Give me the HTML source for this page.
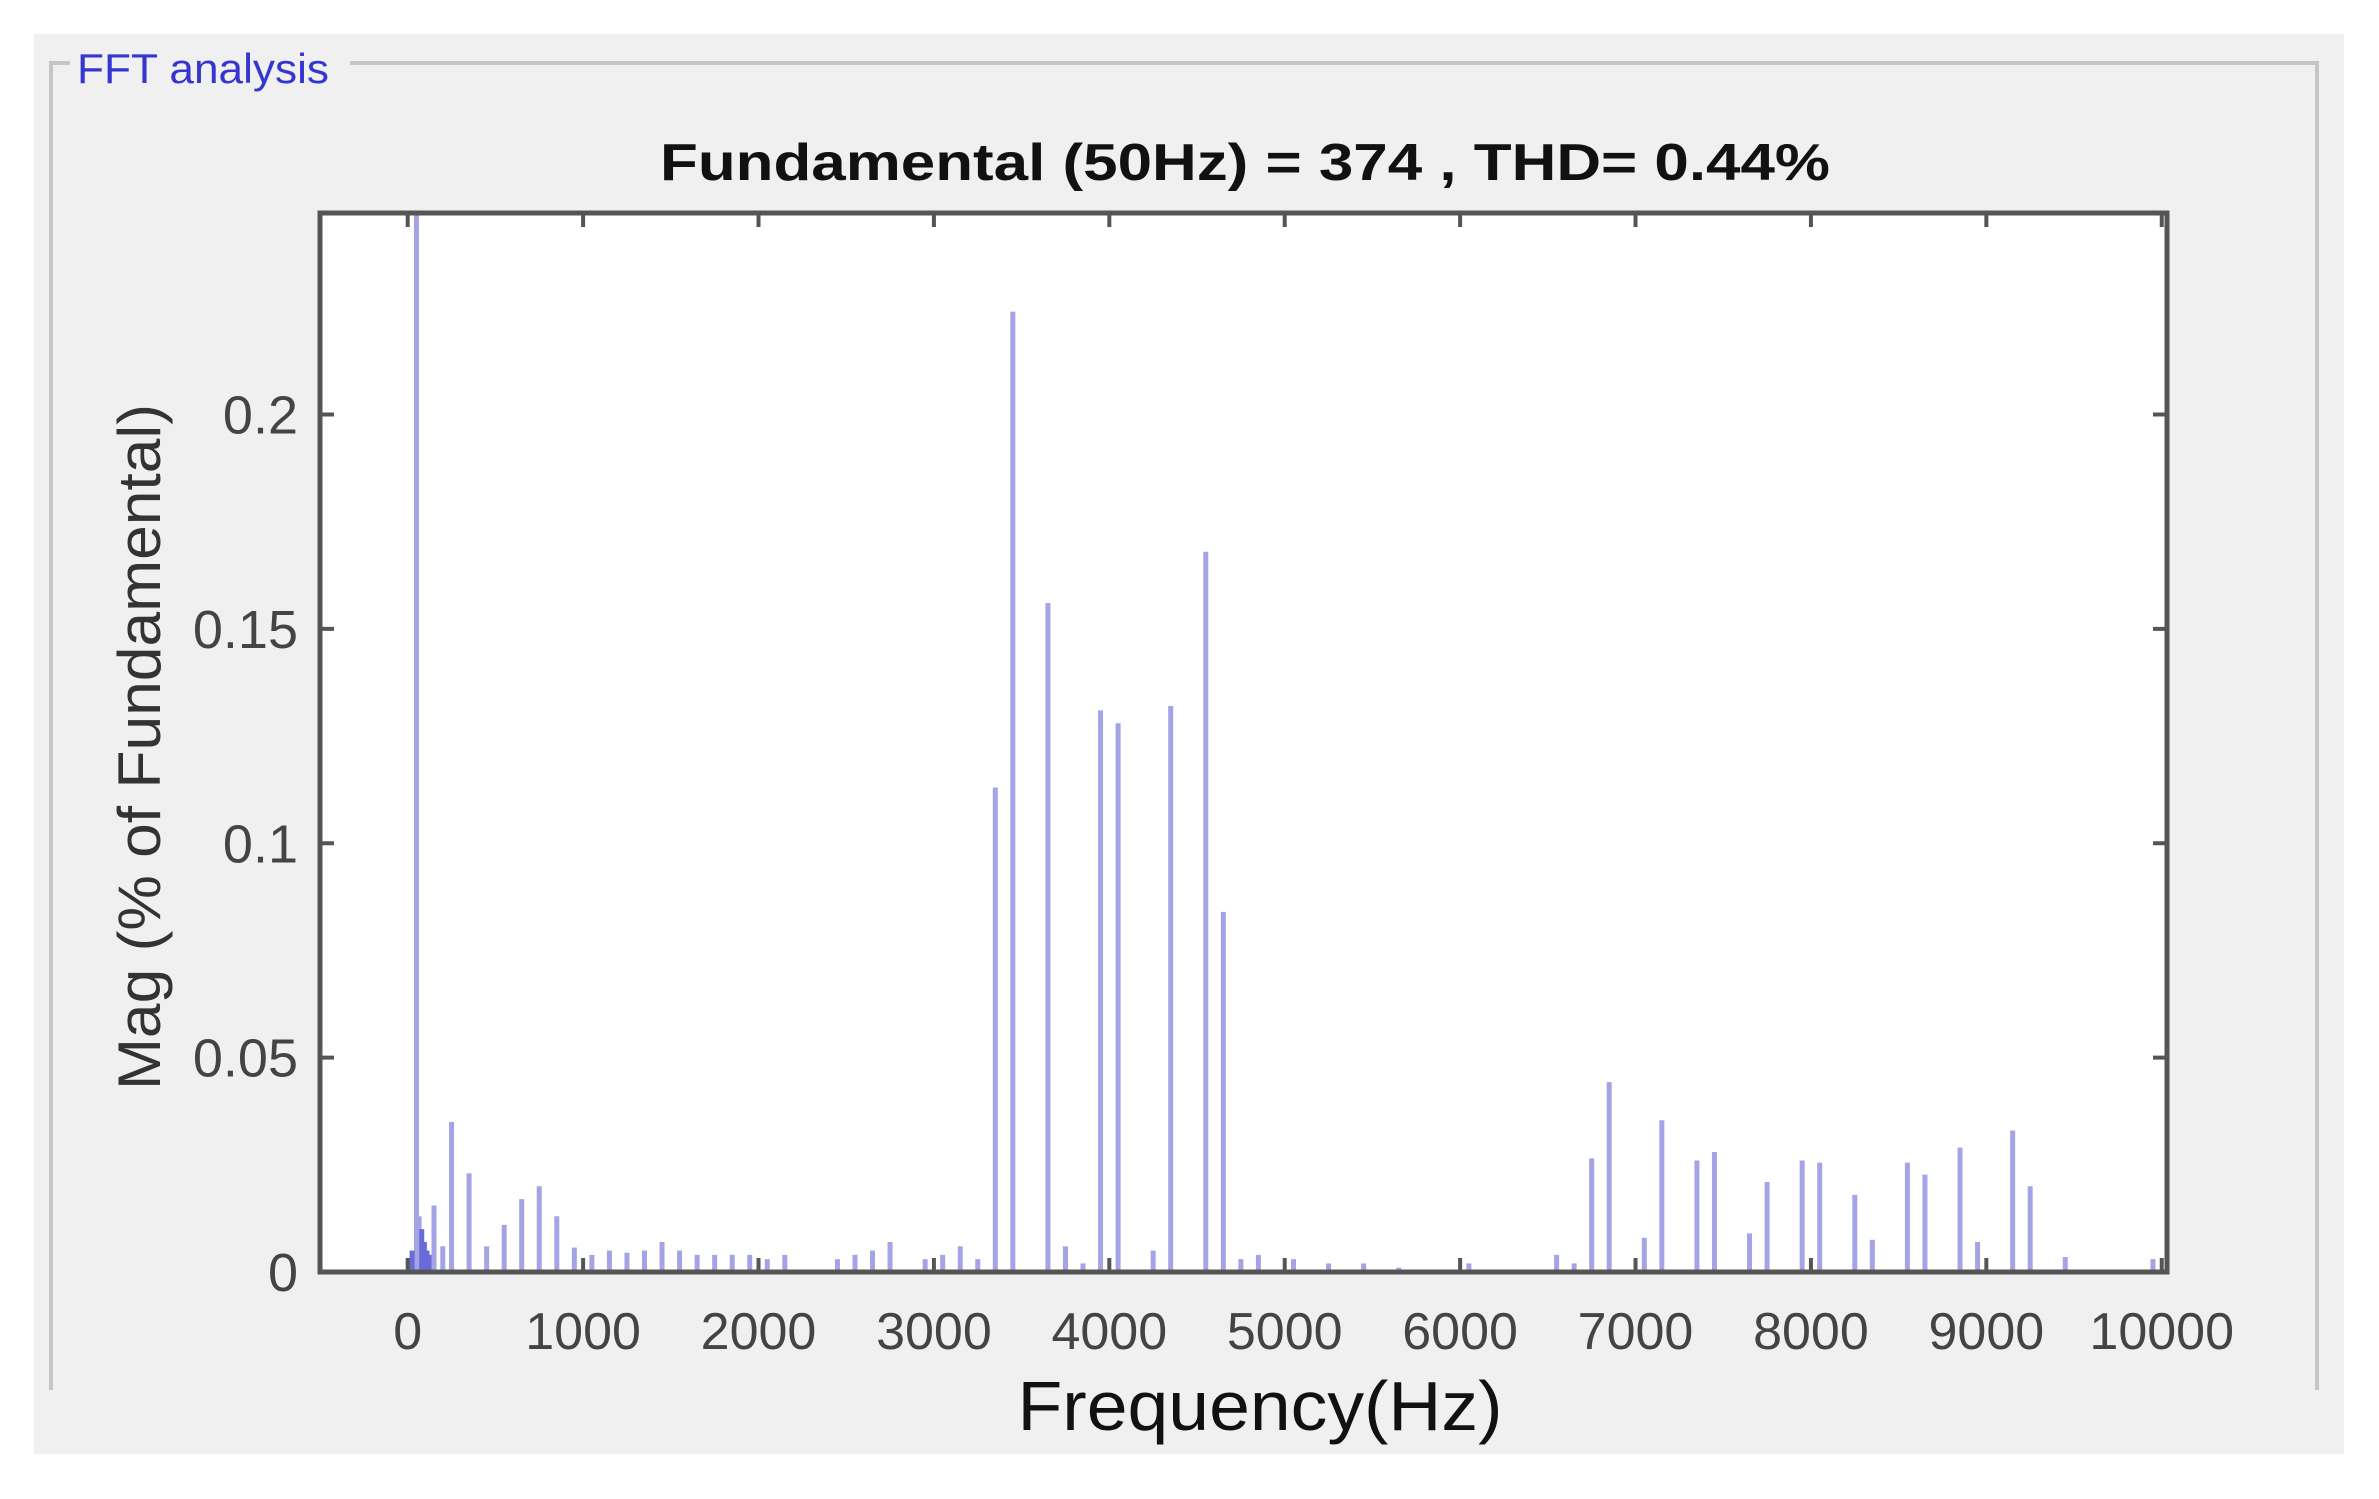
<!DOCTYPE html>
<html><head><meta charset="utf-8"><style>
html,body{margin:0;padding:0;background:#fff;}
svg{display:block;}
text{font-family:"Liberation Sans",sans-serif;}
</style></head><body>
<svg id="chart" width="2379" height="1499" viewBox="0 0 2379 1499">
<rect x="34" y="34" width="2310" height="1420" fill="#f0f0f0"/>
<path d="M51 1390 V63 H70 M350 63 H2317 V1390" fill="none" stroke="#c6c6c6" stroke-width="4"/>
<text x="77" y="83" font-size="42" fill="#3535d0" textLength="252" lengthAdjust="spacingAndGlyphs">FFT analysis</text>
<text x="1245" y="180" font-size="52" font-weight="bold" fill="#111" text-anchor="middle" textLength="1170" lengthAdjust="spacingAndGlyphs">Fundamental (50Hz) = 374 , THD= 0.44%</text>
<rect x="320" y="213" width="1847" height="1059" fill="#fff"/>
<defs><clipPath id="clip"><rect x="320" y="213" width="1847" height="1059"/></clipPath></defs>
<g id="bars" clip-path="url(#clip)"></g>
<g id="axes"></g>
<text x="1260" y="1430" font-size="70" fill="#111" text-anchor="middle" textLength="485" lengthAdjust="spacingAndGlyphs">Frequency(Hz)</text>
<text transform="translate(160,747) rotate(-90)" font-size="60" fill="#333" text-anchor="middle" textLength="686" lengthAdjust="spacingAndGlyphs">Mag (% of Fundamental)</text>
</svg>
<script>
const freqs = [50,25,65,80,95,110,125,150,200,250,350,450,550,650,750,850,950,1050,1150,1250,1350,1450,1550,1650,1750,1850,1950,2050,2150,2450,2550,2650,2750,2950,3050,3150,3250,3350,3450,3650,3750,3850,3950,4050,4250,4350,4550,4650,4750,4850,5050,5250,5450,5650,6050,6550,6650,6750,6850,7050,7150,7350,7450,7650,7750,7950,8050,8250,8350,8550,8650,8850,8950,9150,9250,9450,9950];
const mags  = [1.0,0.005,0.013,0.010,0.007,0.005,0.004,0.0155,0.006,0.035,0.023,0.006,0.011,0.017,0.020,0.013,0.0057,0.004,0.005,0.0045,0.005,0.007,0.005,0.004,0.004,0.004,0.004,0.003,0.004,0.003,0.004,0.005,0.007,0.003,0.004,0.006,0.003,0.113,0.224,0.156,0.006,0.002,0.131,0.128,0.005,0.132,0.168,0.084,0.003,0.004,0.003,0.002,0.002,0.001,0.002,0.004,0.002,0.0265,0.0443,0.008,0.0354,0.026,0.028,0.009,0.021,0.026,0.0255,0.018,0.0075,0.0255,0.0227,0.029,0.007,0.033,0.020,0.0035,0.003];
const xTicks = [0,1000,2000,3000,4000,5000,6000,7000,8000,9000,10000];
const yTicks = [0,0.05,0.1,0.15,0.2];
const yTickLabels = ["0","0.05","0.1","0.15","0.2"];
const X0=320,X1=2167,Y0=1272,Y1=213,XMIN=-500,XMAX=10030,YMAX=0.247;
function sx(f){return X0+(f-XMIN)/(XMAX-XMIN)*(X1-X0);}
function sy(v){return Y0-v/YMAX*(Y0-Y1);}
const NS="http://www.w3.org/2000/svg";
const bars=document.getElementById('bars');
freqs.forEach((f,i)=>{
  const l=document.createElementNS(NS,'line');
  
  
  l.setAttribute('x1',sx(f));l.setAttribute('x2',sx(f));
  l.setAttribute('y1',Y0);l.setAttribute('y2',sy(mags[i]));
  l.setAttribute('stroke',mags[i]<0.012&&f<200?'#6a6ad8':'#a3a3e6');
  l.setAttribute('stroke-width','5');
  bars.appendChild(l);
});
const axes=document.getElementById('axes');
const frame=document.createElementNS(NS,'rect');


frame.setAttribute('x',X0);frame.setAttribute('y',Y1);frame.setAttribute('width',X1-X0);frame.setAttribute('height',Y0-Y1);
frame.setAttribute('fill','none');frame.setAttribute('stroke','#555');frame.setAttribute('stroke-width','5');
axes.appendChild(frame);
xTicks.forEach(t=>{
  const x=sx(t);
  const p=document.createElementNS(NS,'path');
  
  
  p.setAttribute('d',`M${x} ${Y0} V${Y0-14} M${x} ${Y1} V${Y1+14}`);
  p.setAttribute('stroke','#555');p.setAttribute('stroke-width','4');
  axes.appendChild(p);
  const tx=document.createElementNS(NS,'text');
  
  
  tx.setAttribute('x',x);tx.setAttribute('y',1349);
  tx.setAttribute('font-size','52');tx.setAttribute('fill','#444');tx.setAttribute('text-anchor','middle');
  tx.textContent=String(t);
  axes.appendChild(tx);
});
yTicks.forEach((t,i)=>{
  const y=sy(t);
  const p=document.createElementNS(NS,'path');
  
  
  p.setAttribute('d',`M${X0} ${y} H${X0+14} M${X1} ${y} H${X1-14}`);
  p.setAttribute('stroke','#555');p.setAttribute('stroke-width','4');
  axes.appendChild(p);
  const tx=document.createElementNS(NS,'text');
  
  
  tx.setAttribute('x',298);tx.setAttribute('y',y+19);
  tx.setAttribute('font-size','54');tx.setAttribute('fill','#444');tx.setAttribute('text-anchor','end');
  tx.textContent=yTickLabels[i];
  axes.appendChild(tx);
});
</script>
</body></html>
